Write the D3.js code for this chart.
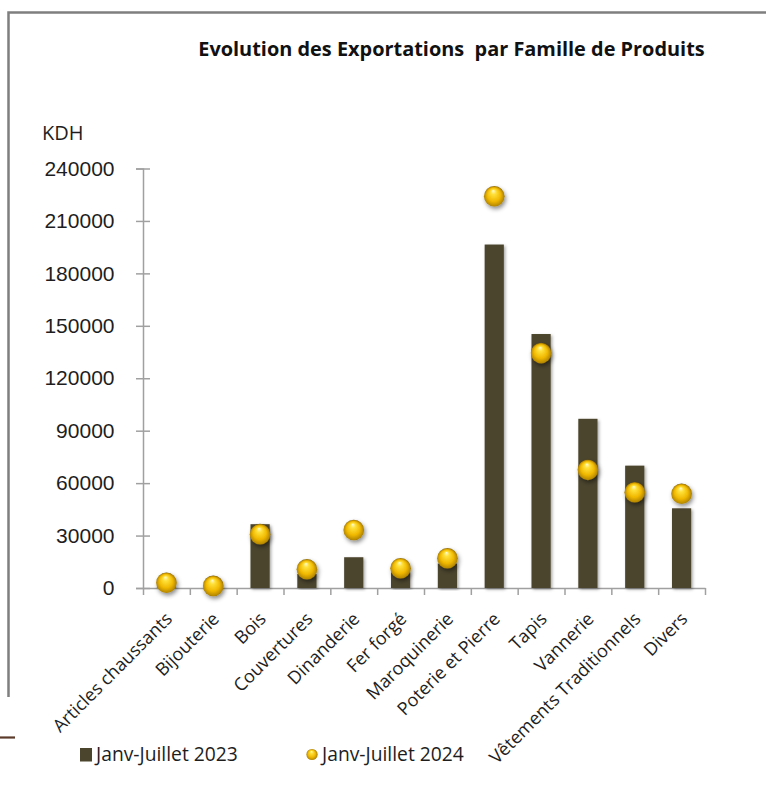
<!DOCTYPE html>
<html>
<head>
<meta charset="utf-8">
<script src="https://cdn.jsdelivr.net/npm/d3@7"></script>
<style>
  html, body { margin: 0; padding: 0; background: #fff; }
  svg { display: block; font-family: "Open Sans", "Noto Sans", sans-serif; }
</style>
</head>
<body>
<div id="chart"></div>
<script>
// --- Data ---
const categories = [
  "Articles chaussants", "Bijouterie", "Bois", "Couvertures", "Dinanderie",
  "Fer forgé", "Maroquinerie", "Poterie et Pierre", "Tapis", "Vannerie",
  "Vêtements Traditionnels", "Divers"
];
const values2023 = [300, 200, 36500, 8000, 17600, 9000, 14000, 196500, 145300, 96800, 70000, 45600];
const values2024 = [3000, 1200, 30800, 10700, 33200, 11300, 17000, 224100, 134400, 67600, 54800, 53900];
const yTicks = [0, 30000, 60000, 90000, 120000, 150000, 180000, 210000, 240000];
const seriesNames = ["Janv-Juillet 2023", "Janv-Juillet 2024"];
const chartTitle = "Evolution des Exportations  par Famille de Produits";
const unitLabel = "KDH";

// --- Layout ---
const W = 766, H = 789;
const plot = { left: 143, right: 705, top: 168.5, bottom: 588 };
const barColor = "#4b452d";
const axisColor = "#a0a0a0";
const textColor = "#1e1e1e";

const svg = d3.select("#chart").append("svg")
  .attr("width", W)
  .attr("height", H);

svg.append("rect").attr("width", W).attr("height", H).attr("fill", "#fff");

// gradients & shadows
const defs = svg.append("defs");
const grad = defs.append("radialGradient")
  .attr("id", "gold")
  .attr("cx", "50%").attr("cy", "55%").attr("r", "55%")
  .attr("fx", "45%").attr("fy", "22%");
grad.append("stop").attr("offset", "0%").attr("stop-color", "#fffbd8");
grad.append("stop").attr("offset", "22%").attr("stop-color", "#ffe13a");
grad.append("stop").attr("offset", "60%").attr("stop-color", "#f0b800");
grad.append("stop").attr("offset", "85%").attr("stop-color", "#b88a00");
grad.append("stop").attr("offset", "100%").attr("stop-color", "#6e5200");

const ballShadow = defs.append("filter").attr("id", "ballShadow")
  .attr("x", "-50%").attr("y", "-50%").attr("width", "200%").attr("height", "200%");
ballShadow.append("feDropShadow")
  .attr("dx", 1.5).attr("dy", 2.5).attr("stdDeviation", 2)
  .attr("flood-color", "#000").attr("flood-opacity", 0.45);

const barShadow = defs.append("filter").attr("id", "barShadow")
  .attr("x", "-30%").attr("y", "-10%").attr("width", "160%").attr("height", "120%");
barShadow.append("feDropShadow")
  .attr("dx", 1.5).attr("dy", 1.5).attr("stdDeviation", 1.5)
  .attr("flood-color", "#000").attr("flood-opacity", 0.35);

// --- Frame lines ---
svg.append("path")
  .attr("d", `M8.5,697 V12.5 H${W}`)
  .attr("fill", "none")
  .attr("stroke", "#7f7f7f")
  .attr("stroke-width", 2.5);
svg.append("line")
  .attr("x1", 0).attr("x2", 15).attr("y1", 737.5).attr("y2", 737.5)
  .attr("stroke", "#5b3a29").attr("stroke-width", 2.2);

// --- Scales ---
const x = d3.scaleBand()
  .domain(categories)
  .range([plot.left, plot.right])
  .padding(0);
const xEdges = d3.scaleLinear()
  .domain([0, categories.length])
  .range([plot.left, plot.right]);
const y = d3.scaleLinear()
  .domain([0, 240000])
  .range([plot.bottom, plot.top]);

const barW = x.bandwidth() * 0.41;

// --- Axes ---
const yAxis = svg.append("g")
  .attr("transform", `translate(${plot.left},0)`)
  .call(d3.axisLeft(y).tickValues(yTicks).tickSize(7).tickPadding(21.5).tickFormat(d3.format("d")));
yAxis.select(".domain").attr("stroke", axisColor).attr("stroke-width", 1.5);
yAxis.selectAll(".tick line").attr("x1", -7).attr("x2", 7)
  .attr("stroke", axisColor).attr("stroke-width", 1.5);
yAxis.selectAll(".tick text")
  .attr("fill", textColor)
  .style("font-size", "21px");

const xAxis = svg.append("g")
  .attr("transform", `translate(0,${plot.bottom})`)
  .call(d3.axisBottom(xEdges).ticks(categories.length).tickSize(7).tickSizeOuter(0).tickFormat(""));
xAxis.select(".domain").attr("stroke", axisColor).attr("stroke-width", 1.5);
xAxis.selectAll(".tick line").attr("stroke", axisColor).attr("stroke-width", 1.5);

// category labels, rotated
svg.append("g").selectAll("text")
  .data(categories)
  .join("text")
  .attr("transform", d => `translate(${x(d) + x.bandwidth() / 2 + 7},${plot.bottom + 32}) rotate(-45)`)
  .attr("text-anchor", "end")
  .attr("fill", textColor)
  .style("font-size", "18px")
  .text(d => d);

// --- Bars (2023) ---
svg.append("g").selectAll("rect")
  .data(values2023)
  .join("rect")
  .attr("x", (d, i) => x(categories[i]) + x.bandwidth() / 2 - barW / 2)
  .attr("y", d => y(d))
  .attr("width", barW)
  .attr("height", d => y(0) - y(d))
  .attr("fill", barColor)
  .attr("filter", "url(#barShadow)");

// --- Balls (2024) ---
svg.append("g").selectAll("circle")
  .data(values2024)
  .join("circle")
  .attr("cx", (d, i) => x(categories[i]) + x.bandwidth() / 2)
  .attr("cy", d => y(d))
  .attr("r", 10.3)
  .attr("fill", "url(#gold)")
  .attr("filter", "url(#ballShadow)");

// --- Title & unit ---
function fitWidth(sel, target) {
  const node = sel.node();
  const w = node.getComputedTextLength();
  const fs = parseFloat(sel.style("font-size"));
  sel.style("font-size", (fs * target / w) + "px");
}

const title = svg.append("text")
  .attr("x", 451.5).attr("y", 56)
  .attr("text-anchor", "middle")
  .attr("fill", "#111")
  .style("font-weight", "bold")
  .style("font-size", "17px")
  .style("white-space", "pre")
  .attr("xml:space", "preserve")
  .text(chartTitle);
fitWidth(title, 507);

svg.append("text")
  .attr("x", 42).attr("y", 140)
  .attr("fill", textColor)
  .style("font-size", "20px")
  .text(unitLabel);

// --- Legend ---
const legend = svg.append("g");
legend.append("rect")
  .attr("x", 80).attr("y", 748).attr("width", 12).attr("height", 13.5)
  .attr("fill", barColor);
const l1 = legend.append("text")
  .attr("x", 96).attr("y", 761)
  .attr("fill", textColor)
  .style("font-size", "19px")
  .text(seriesNames[0]);
fitWidth(l1, 142);
legend.append("circle")
  .attr("cx", 312).attr("cy", 754.5).attr("r", 5.6)
  .attr("fill", "url(#gold)");
const l2 = legend.append("text")
  .attr("x", 322).attr("y", 761)
  .attr("fill", textColor)
  .style("font-size", "19px")
  .text(seriesNames[1]);
fitWidth(l2, 142);
</script>
</body>
</html>
